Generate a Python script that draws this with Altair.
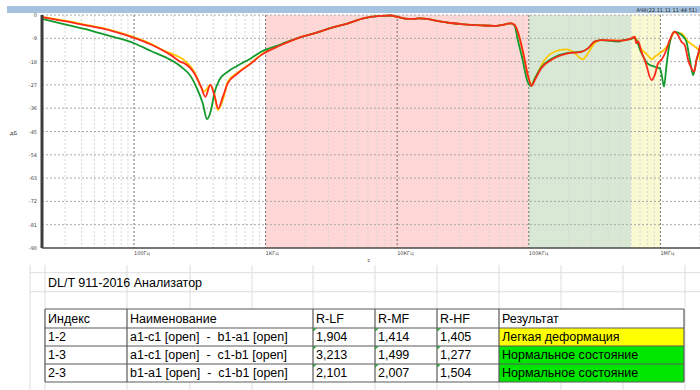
import altair as alt
import pandas as pd

# ---------------- curve data: frequency (Hz) and level (dB) ----------------
YEL_F = [20, 31.5, 42.4, 56, 75.5, 100, 134.7, 181, 191, 287, 333, 342, 380, 408, 433, 486, 516, 615, 776, 925,
         1313, 1767, 2340, 3148, 4240, 5610, 7550, 9000, 10000, 12130, 13460, 14450, 16030,
         21620, 24430, 30680, 43500, 54700,
         61800, 73600, 78300, 83200, 90800, 99000, 105000, 111200, 131800, 157000, 193000,
         216600, 257800, 281600, 316000, 355800, 505000, 601000, 638000, 711000, 799000,
         855000, 906000, 988000, 1048000, 1144000, 1283000, 1445000, 1625000, 1823000,
         1950000, 2000000]
YEL_DB = [-0.7, -2.4, -3.7, -4.9, -6.6, -8.5, -11.1, -14.4, -14.8, -21.9, -29.0, -29.6, -27.0, -30.5, -36.7, -30.9, -25.8, -22.2, -18.5, -15.3,
          -11.5, -8.9, -7.1, -5.0, -3.2, -1.2, -0.3, -0.2, -0.7, -1.5, -1.5, -1.3, -1.4,
          -2.6, -3.0, -3.5, -4.0, -4.2,
          -3.9, -3.2, -3.9, -7.1, -14.8, -23.8, -26.8, -24.5, -17.4, -14.2, -13.3,
          -14.2, -17.1, -14.8, -10.9, -9.7, -9.9, -9.0, -8.6, -12.9, -15.5,
          -17.1, -16.1, -14.8, -13.8, -11.6, -6.8, -7.1, -10.3, -12.2,
          -13.5, -17.5]

RED_F = [20, 31.5, 42.4, 56, 75.5, 100, 134.7, 181, 191, 228, 242, 287, 323, 349, 380, 408, 437, 473, 516, 615, 776, 925,
         1313, 1767, 2340, 3148, 4240, 5610, 7550, 9000, 10000, 12130, 13460, 14450, 16030,
         21620, 24430, 30680, 43500, 54700,
         61800, 73600, 78300, 83200, 90800, 99000, 105000, 111200, 124500, 148000, 198500,
         250600, 281600, 316000, 355800, 505000, 601000, 638000, 656000, 680000, 711000,
         776000, 855000, 906000, 960000, 1018000, 1110000, 1176000, 1283000, 1361000,
         1445000, 1531000, 1625000, 1722000, 1804000, 1880000, 1992000, 2000000]
RED_DB = [-0.8, -2.6, -3.9, -5.1, -6.8, -8.8, -11.4, -14.8, -15.5, -18.2, -18.7, -22.5, -27.7, -31.6, -27.0, -30.9, -36.1, -31.6, -26.4, -22.5, -18.7, -15.5,
          -11.6, -8.9, -7.1, -5.0, -3.2, -1.2, -0.3, -0.2, -0.7, -1.5, -1.5, -1.3, -1.4,
          -2.6, -3.0, -3.5, -4.0, -4.2,
          -3.9, -3.2, -3.9, -7.1, -14.8, -23.8, -27.4, -25.1, -20.6, -17.4, -14.8,
          -14.2, -12.9, -10.3, -9.7, -9.9, -9.0, -8.4, -10.9, -10.2, -13.5,
          -18.7, -25.1, -23.2, -18.7, -17.4, -13.5, -9.7, -6.4, -7.7,
          -10.3, -11.6, -17.4, -20.6, -21.9, -17.4, -12.2, -11.6]

GRN_F = [20, 31.5, 42.4, 56, 75.5, 100, 134.7, 181, 191, 228, 271, 305, 333, 359, 385, 408, 445, 516, 615, 776, 925,
         1313, 1767, 2340, 3148, 4240, 5610, 7550, 9000, 10000, 12130, 13460, 14450, 16030,
         21620, 24430, 30680, 43500, 54700,
         61800, 73600, 78300, 82000, 89500, 97500, 104000, 111200, 124500, 148000, 198500,
         250600, 281600, 316000, 355800, 479000, 505000, 601000, 638000, 711000, 799000,
         906000, 988000, 1018000, 1066000, 1110000, 1176000, 1283000, 1445000, 1577000,
         1641000, 1722000, 1774000, 1880000, 1992000, 2000000]
GRN_DB = [-1.5, -3.9, -5.4, -7.1, -8.9, -10.9, -13.9, -16.8, -17.4, -20.0, -23.8, -29.0, -34.1, -40.2, -36.7, -30.2, -25.1, -21.9, -19.5, -16.7, -14.2,
          -11.3, -8.8, -7.1, -5.0, -3.2, -1.2, -0.3, -0.2, -0.7, -1.5, -1.5, -1.3, -1.4,
          -2.6, -3.0, -3.5, -4.0, -4.2,
          -3.9, -3.2, -4.2, -9.0, -17.0, -25.5, -27.4, -24.5, -20.2, -17.0, -14.6,
          -14.2, -12.9, -10.3, -9.7, -10.3, -9.9, -9.2, -8.8, -14.2, -18.7,
          -20.0, -20.6, -22.5, -27.7, -20.0, -10.9, -6.4, -7.7, -10.3,
          -14.8, -20.6, -23.2, -17.4, -12.9, -12.5]

assert len(YEL_F) == len(YEL_DB) and len(RED_F) == len(RED_DB) and len(GRN_F) == len(GRN_DB)

# frequency bands (LF / MF / HF)
BAND_LO = [1000, 100000, 600000]
BAND_HI = [100000, 600000, 1000000]
BAND_COLORS = ['#ffd7d7', '#d9e8d5', '#fafad2']

# axes
X_TICKS = [100, 1000, 10000, 100000, 1000000]
X_LABELS = ['100Гц', '1КГц', '10КГц', '100КГц', '1МГц']
Y_TICKS = [-90, -81, -72, -63, -54, -45, -36, -27, -18, -9, 0]
MINOR_F = [30, 40, 50, 60, 70, 80, 90,
           200, 300, 400, 500, 600, 700, 800, 900,
           2000, 3000, 4000, 5000, 6000, 7000, 8000, 9000,
           20000, 30000, 40000, 50000, 60000, 70000, 80000, 90000,
           200000, 300000, 400000, 500000, 600000, 700000, 800000, 900000,
           2000000]
F_MIN, F_MAX = 20, 2000000
DB_MIN, DB_MAX = -90, 0

# table
TABLE_TITLE = 'DL/T 911-2016 Анализатор'
HEADERS = ['Индекс', 'Наименование', 'R-LF', 'R-MF', 'R-HF', 'Результат']
ROW_IDX = ['1-2', '1-3', '2-3']
ROW_NAME = ['a1-c1 [open]\u00a0 -\u00a0 b1-a1 [open]',
            'a1-c1 [open]\u00a0 -\u00a0 c1-b1 [open]',
            'b1-a1 [open]\u00a0 -\u00a0 c1-b1 [open]']
R_LF = ['1,904', '3,213', '2,101']
R_MF = ['1,414', '1,499', '2,007']
R_HF = ['1,405', '1,277', '1,504']
RESULT = ['Легкая деформация', 'Нормальное состояние', 'Нормальное состояние']
RESULT_COLORS = ['#ffff00', '#00e600', '#00e600']
HEADER_TEXT = 'АЧХ(22.11.11 11:44:51)'

# ---------------- layout ----------------
TOTAL_W, TOTAL_H = 700, 390
PAD_L, PAD_T, PAD_B = 42, 15, 142
W, H = TOTAL_W - PAD_L, TOTAL_H - PAD_T - PAD_B

COL_EDGES = [45, 127, 313, 375, 437, 499, 684]
ROW_EDGES = [309, 328, 346, 364, 382]
SHEET_COLS = [30, 45, 127, 190, 252, 313, 375, 437, 499, 561, 623, 685]
SHEET_ROWS = [272.7, 291.7]
FONT = 'Liberation Sans'
AX_FONT = 'DejaVu Sans'

xs = alt.Scale(type='log', domain=[F_MIN, F_MAX], nice=False)
ys = alt.Scale(domain=[DB_MIN, DB_MAX], nice=False, zero=False)


def X(field):
    return alt.X(field, scale=xs, axis=None)


def Y(field):
    return alt.Y(field, scale=ys, axis=None)


bands = alt.Chart(pd.DataFrame({'lo': BAND_LO, 'hi': BAND_HI, 'c': BAND_COLORS,
                                'ylo': [DB_MIN] * 3, 'yhi': [DB_MAX] * 3})).mark_rect().encode(
    x=X('lo:Q'), x2='hi:Q', y=Y('ylo:Q'), y2='yhi:Q', fill=alt.Fill('c:N', scale=None))

minor = alt.Chart(pd.DataFrame({'f': MINOR_F})).mark_rule(
    color='#d6d6d6', strokeDash=[2, 2], strokeWidth=1).encode(x=X('f:Q'))
decades = alt.Chart(pd.DataFrame({'f': X_TICKS})).mark_rule(
    color='#6e6e6e', strokeDash=[2, 2], strokeWidth=1).encode(x=X('f:Q'))
hgrid = alt.Chart(pd.DataFrame({'y': Y_TICKS[1:]})).mark_rule(
    color='#a8a8a8', strokeDash=[2, 2], strokeWidth=1).encode(y=Y('y:Q'))

# axis lines, labels and titles drawn from the same scales
left_axis = alt.Chart(pd.DataFrame({'f': [F_MIN]})).mark_rule(
    color='#3c3c3c', strokeWidth=3).encode(x=X('f:Q'))
bottom_axis = alt.Chart(pd.DataFrame({'y': [DB_MIN]})).mark_rule(
    color='#4a4a4a', strokeWidth=1.5).encode(y=Y('y:Q'))
ylabels = alt.Chart(pd.DataFrame({'f': [F_MIN] * len(Y_TICKS), 'y': Y_TICKS,
                                  't': [str(v) for v in Y_TICKS]})).mark_text(
    align='right', baseline='middle', dx=-5, fontSize=5, font=AX_FONT, color='#444').encode(
    x=X('f:Q'), y=Y('y:Q'), text='t:N')
xlabels = alt.Chart(pd.DataFrame({'f': X_TICKS, 'y': [DB_MIN] * len(X_TICKS),
                                  't': X_LABELS})).mark_text(
    align='left', baseline='middle', dy=5, fontSize=5, font=AX_FONT, color='#444').encode(
    x=X('f:Q'), y=Y('y:Q'), text='t:N')
ytitle = alt.Chart(pd.DataFrame({'f': [F_MIN], 'y': [(DB_MIN + DB_MAX) / 2], 't': ['дБ']})).mark_text(
    align='center', baseline='middle', dx=-28.5, dy=1.5, fontSize=5.5, font=AX_FONT, color='#444').encode(
    x=X('f:Q'), y=Y('y:Q'), text='t:N')
xtitle = alt.Chart(pd.DataFrame({'f': [(F_MIN * F_MAX) ** 0.5], 'y': [DB_MIN], 't': ['с']})).mark_text(
    align='center', baseline='middle', dx=-2, dy=12, fontSize=5.5, font=AX_FONT, color='#444').encode(
    x=X('f:Q'), y=Y('y:Q'), text='t:N')


def curve(f, db, color):
    return alt.Chart(pd.DataFrame({'f': f, 'db': db})).mark_line(
        color=color, strokeWidth=1.8, strokeJoin='round', interpolate='monotone').encode(
        x=X('f:Q'), y=Y('db:Q'))


plot_layers = [bands, minor, decades, hgrid,
               curve(YEL_F, YEL_DB, '#ffc800'),
               curve(GRN_F, GRN_DB, '#139a2c'),
               curve(RED_F, RED_DB, '#ff2a1a'),
               left_axis, bottom_axis, ylabels, xlabels, ytitle, xtitle]

# ---------------- table & header (page-pixel scales) ----------------
px = alt.Scale(domain=[0, TOTAL_W], range=[-PAD_L, TOTAL_W - PAD_L])
py = alt.Scale(domain=[0, TOTAL_H], range=[-PAD_T, TOTAL_H - PAD_T])


def PX(field):
    return alt.X(field, scale=px, axis=None)


def PY(field):
    return alt.Y(field, scale=py, axis=None)


rect_rows = [(7, 700, 6, 13, '#a5c3df'),
             (COL_EDGES[0], COL_EDGES[-1], ROW_EDGES[0], ROW_EDGES[-1], '#ffffff')]
for i, c in enumerate(RESULT_COLORS):
    rect_rows.append((COL_EDGES[5], COL_EDGES[6], ROW_EDGES[i + 1], ROW_EDGES[i + 2], c))
rect_df = pd.DataFrame(rect_rows, columns=['x', 'x2', 'y', 'y2', 'c'])
rects = alt.Chart(rect_df).mark_rect().encode(
    x=PX('x:Q'), x2='x2:Q', y=PY('y:Q'), y2='y2:Q', fill=alt.Fill('c:N', scale=None))

light = []
for cx in SHEET_COLS:
    light.append((cx, cx, 265, 390))
for ry in SHEET_ROWS:
    light.append((30, 700, ry, ry))
light_df = pd.DataFrame(light, columns=['x', 'x2', 'y', 'y2'])
light_rules = alt.Chart(light_df).mark_rule(color='#dedede', strokeWidth=1).encode(
    x=PX('x:Q'), x2='x2:Q', y=PY('y:Q'), y2='y2:Q')

border = []
for cx in COL_EDGES:
    border.append((cx, cx, ROW_EDGES[0], ROW_EDGES[-1]))
for ry in ROW_EDGES:
    border.append((COL_EDGES[0], COL_EDGES[-1], ry, ry))
border_df = pd.DataFrame(border, columns=['x', 'x2', 'y', 'y2'])
borders = alt.Chart(border_df).mark_rule(color='#5a5a5a', strokeWidth=1.2).encode(
    x=PX('x:Q'), x2='x2:Q', y=PY('y:Q'), y2='y2:Q')

cells = [(48, 283, TABLE_TITLE)]
header_y = (ROW_EDGES[0] + ROW_EDGES[1]) / 2
for j, h in enumerate(HEADERS):
    cells.append((COL_EDGES[j] + 3, header_y, h))
for i in range(3):
    cy = (ROW_EDGES[i + 1] + ROW_EDGES[i + 2]) / 2
    for j, v in enumerate([ROW_IDX[i], ROW_NAME[i], R_LF[i], R_MF[i], R_HF[i], RESULT[i]]):
        cells.append((COL_EDGES[j] + 3, cy, v))
cell_df = pd.DataFrame(cells, columns=['x', 'y', 't'])
texts = alt.Chart(cell_df).mark_text(align='left', baseline='middle', fontSize=12.5,
                                     font=FONT, color='#000000').encode(
    x=PX('x:Q'), y=PY('y:Q'), text='t:N')

head_text = alt.Chart(pd.DataFrame({'x': [697], 'y': [9.5], 't': [HEADER_TEXT]})).mark_text(
    align='right', baseline='middle', fontSize=5, font=AX_FONT, color='#222').encode(
    x=PX('x:Q'), y=PY('y:Q'), text='t:N')

tri = []
for i in range(3):
    for j in (2, 3, 4):
        tri.append((COL_EDGES[j] + 2, ROW_EDGES[i + 1] + 2))
tri_df = pd.DataFrame(tri, columns=['x', 'y'])
triangles = alt.Chart(tri_df).mark_point(shape='M-1,-1L1,-1L-1,1Z', filled=True, size=14,
                                         color='#2f9c3c', opacity=1).encode(
    x=PX('x:Q'), y=PY('y:Q'))

table_layers = [light_rules, rects, borders, texts, head_text, triangles]

chart = alt.layer(*plot_layers, *table_layers).resolve_scale(
    x='independent', y='independent').properties(
    width=W, height=H,
    padding={'left': PAD_L, 'top': PAD_T, 'right': 0, 'bottom': PAD_B},
    autosize=alt.AutoSizeParams(type='none'),
    background='white').configure_view(stroke=None)

chart.save('out.html', embed_options={'renderer': 'svg', 'actions': False})
